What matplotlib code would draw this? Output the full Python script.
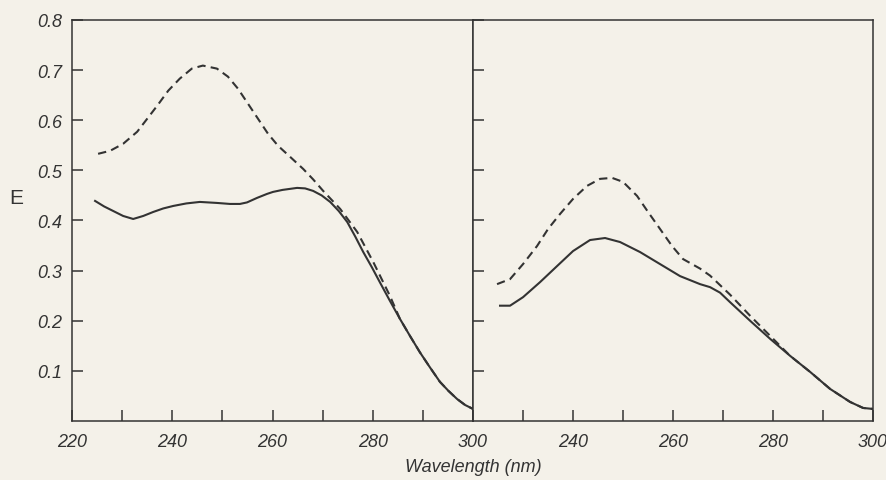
import matplotlib
matplotlib.use("Agg")
import matplotlib.pyplot as plt

# ==========================================
# DATA
# ==========================================

left_wl_solid = [224.6, 226.4, 228.2, 230.2, 232.2, 234.2, 236.2, 238.2, 240.2,
                 242.8, 245.5, 248.9, 251.5, 253.5, 254.9, 256.9, 258.9, 260.1,
                 262.0, 264.9, 266.5, 268.1, 269.8, 271.5, 273.2, 274.9, 276.5,
                 278.1, 279.8, 281.4, 283.4, 285.4, 287.4, 289.4, 291.4, 293.4,
                 295.1, 296.8, 298.4, 300.0]
left_e_solid = [0.439, 0.428, 0.419, 0.409, 0.403, 0.409, 0.417, 0.424, 0.429,
                0.434, 0.437, 0.435, 0.433, 0.433, 0.436, 0.445, 0.453, 0.457,
                0.461, 0.465, 0.464, 0.459, 0.450, 0.437, 0.419, 0.397, 0.368,
                0.337, 0.307, 0.277, 0.240, 0.204, 0.170, 0.137, 0.107, 0.078,
                0.060, 0.044, 0.032, 0.024]

left_wl_dash = [225.2, 227.6, 230.2, 233.0, 235.0, 237.0, 239.2, 241.5, 243.9,
                246.1, 248.9, 251.1, 253.1, 255.1, 257.1, 259.1, 261.1, 263.5,
                266.1, 268.1, 270.1, 273.5, 276.9, 280.1, 283.4, 285.4, 287.4,
                289.4, 291.4, 293.4, 295.1, 296.8, 298.4, 300.0]
left_e_dash = [0.533, 0.539, 0.553, 0.577, 0.603, 0.629, 0.659, 0.683, 0.703,
               0.709, 0.703, 0.687, 0.663, 0.633, 0.603, 0.573, 0.549, 0.527,
               0.503, 0.482, 0.459, 0.423, 0.377, 0.317, 0.250, 0.204, 0.170,
               0.137, 0.107, 0.078, 0.060, 0.044, 0.032, 0.024]

right_wl_solid = [225.4, 227.4, 230.0, 233.4, 236.8, 240.0, 243.4, 246.4, 249.4,
                  253.4, 257.4, 261.4, 263.4, 265.4, 267.4, 269.4, 271.4, 275.4,
                  279.4, 283.4, 287.4, 291.4, 295.4, 298.0, 300.0]
right_e_solid = [0.230, 0.230, 0.247, 0.277, 0.309, 0.339, 0.361, 0.365, 0.357,
                 0.337, 0.313, 0.289, 0.281, 0.273, 0.267, 0.256, 0.237, 0.200,
                 0.164, 0.130, 0.098, 0.064, 0.038, 0.026, 0.024]

right_wl_dash = [224.8, 227.4, 230.0, 232.8, 235.0, 237.4, 240.0, 242.8, 245.4,
                 247.8, 250.0, 252.8, 255.0, 257.4, 259.8, 262.0, 265.4, 267.4,
                 271.4, 275.4, 279.4, 283.4, 287.4, 291.4, 295.4, 298.0, 300.0]
right_e_dash = [0.273, 0.283, 0.313, 0.349, 0.383, 0.413, 0.443, 0.469, 0.483,
                0.485, 0.477, 0.449, 0.417, 0.383, 0.349, 0.323, 0.304, 0.290,
                0.252, 0.210, 0.170, 0.130, 0.098, 0.064, 0.038, 0.026, 0.024]

x_ticks = [220, 230, 240, 250, 260, 270, 280, 290, 300]
left_x_labels = ["220", "", "240", "", "260", "", "280", "", "300"]
right_x_labels = ["", "", "240", "", "260", "", "280", "", "300"]
y_ticks = [0.1, 0.2, 0.3, 0.4, 0.5, 0.6, 0.7, 0.8]
y_labels = ["0.1", "0.2", "0.3", "0.4", "0.5", "0.6", "0.7", "0.8"]

# ==========================================
# THEME
# ==========================================

PAPER = "#f4f1e9"
INK = "#333333"
FONT = "Liberation Sans"

plt.rcParams["font.family"] = FONT

fig = plt.figure(figsize=(8.87, 4.81), dpi=100, facecolor=PAPER)

ax_left = fig.add_axes([0.0812, 0.1227, 0.4521, 0.8337])
ax_right = fig.add_axes([0.5333, 0.1227, 0.4510, 0.8337])


def style_axis(ax, xlabels, show_y):
    ax.set_facecolor(PAPER)
    ax.set_xlim(220, 300)
    ax.set_ylim(0, 0.8)
    for side in ["top", "bottom", "left", "right"]:
        ax.spines[side].set_color(INK)
        ax.spines[side].set_linewidth(1.1)
    ax.set_xticks(x_ticks)
    ax.set_xticklabels(xlabels)
    ax.set_yticks(y_ticks)
    if show_y:
        ax.set_yticklabels(y_labels)
    else:
        ax.set_yticklabels([""] * len(y_ticks))
    ax.tick_params(axis="both", direction="in", length=8, width=1.1,
                   color=INK, labelcolor=INK, labelsize=13)
    ax.tick_params(axis="x", pad=9)
    ax.tick_params(axis="y", pad=7)
    for lab in ax.get_xticklabels() + ax.get_yticklabels():
        lab.set_fontstyle("italic")


style_axis(ax_left, left_x_labels, True)
style_axis(ax_right, right_x_labels, False)

# ==========================================
# CURVES
# ==========================================

ax_left.plot(left_wl_solid, left_e_solid, color=INK, linewidth=1.5)
ax_left.plot(left_wl_dash, left_e_dash, color=INK, linewidth=1.5,
             linestyle=(0, (4, 2.5)))

ax_right.plot(right_wl_solid, right_e_solid, color=INK, linewidth=1.5)
ax_right.plot(right_wl_dash, right_e_dash, color=INK, linewidth=1.5,
              linestyle=(0, (4, 2.5)))

# ==========================================
# LABELS
# ==========================================

fig.text(16 / 887, 1 - 198 / 481, "E", fontsize=15, color=INK,
         ha="center", va="center")

fig.text(473 / 887, 1 - 468 / 481, "Wavelength (nm)", fontsize=13,
         color=INK, ha="center", va="center", fontstyle="italic")

fig.savefig("out.png", dpi=100, facecolor=PAPER)
plt.close()
